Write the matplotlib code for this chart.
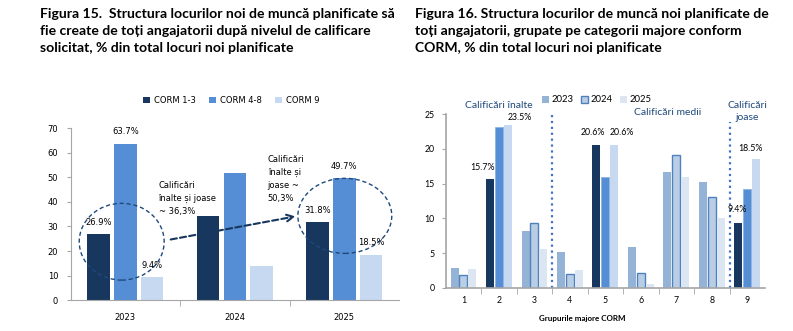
import matplotlib
matplotlib.use('Agg')
import matplotlib.pyplot as plt
import matplotlib.patches as mpatches
import numpy as np

# Figura 15 data
YEARS = ['2023', '2024', '2025']
LEVELS = ['CORM 1-3', 'CORM 4-8', 'CORM 9']
SHARE_HIGH = [26.9, 34.2, 31.8]
SHARE_MID = [63.7, 51.7, 49.7]
SHARE_LOW = [9.4, 14.1, 18.5]
LABELED_YEARS = ['2023', '2025']

# Figura 16 data
GROUPS = ['1', '2', '3', '4', '5', '6', '7', '8', '9']
SERIES = ['2023', '2024', '2025']
VAL_2023 = [2.9, 15.7, 8.2, 5.2, 20.6, 5.8, 16.7, 15.3, 9.4]
VAL_2024 = [1.8, 23.1, 9.3, 2.0, 15.9, 2.1, 19.1, 13.1, 14.2]
VAL_2025 = [2.7, 23.5, 5.6, 2.5, 20.6, 0.6, 15.9, 10.1, 18.5]
HIGHLIGHT = ['2', '5', '9']

C_DARK = '#17375e'
C_MID = '#558ed5'
C_LIGHT = '#c6d9f1'
C_SPINE = '#a6a6a6'
C_NOTE = '#1f497d'

FONT1 = 'DejaVu Sans'
FONT2 = 'Lato'

W, H = 793, 331
fig = plt.figure(figsize=(W / 100, H / 100), dpi=100)


def px_axes(x0, y0, x1, y1):
    # pixel box (top-left origin) -> figure axes
    return fig.add_axes([x0 / W, 1 - y1 / H, (x1 - x0) / W, (y1 - y0) / H])


# ---------------- titles ----------------
fig.text(40 / W, 1 - 8 / H,
         'Figura 15.  Structura locurilor noi de muncă planificate să\n'
         'fie create de toți angajatorii după nivelul de calificare\n'
         'solicitat, % din total locuri noi planificate',
         ha='left', va='top', fontsize=10.1, fontweight='bold', family=FONT2,
         linespacing=1.5)
fig.text(415 / W, 1 - 8 / H,
         'Figura 16. Structura locurilor de muncă noi planificate de\n'
         'toți angajatorii, grupate pe categorii majore conform\n'
         'CORM, % din total locuri noi planificate',
         ha='left', va='top', fontsize=10.1, fontweight='bold', family=FONT2,
         linespacing=1.5)

# ---------------- Figura 15 ----------------
ax1 = px_axes(70.7, 128, 399, 300.3)
x = np.arange(len(YEARS))
bw, step = 0.207, 0.244
series1 = [SHARE_HIGH, SHARE_MID, SHARE_LOW]
colors1 = [C_DARK, C_MID, C_LIGHT]
for i, (vals, col, lab) in enumerate(zip(series1, colors1, LEVELS)):
    xs = x + (i - 1) * step
    ax1.bar(xs, vals, bw, color=col, label=lab, zorder=2)
    for xi, v, yr in zip(xs, vals, YEARS):
        if yr in LABELED_YEARS:
            ax1.annotate(f'{v:.1f}%', (xi, v), xytext=(0, 8.5),
                         textcoords='offset points', ha='center', va='center',
                         fontsize=6, family=FONT1, zorder=4)

ax1.set_xlim(-0.5, 2.5)
ax1.set_ylim(0, 70)
ax1.set_yticks(range(0, 71, 10))
ax1.set_xticks(x)
ax1.set_xticklabels(YEARS)
ax1.set_xticks([0.5, 1.5], minor=True)
ax1.tick_params(axis='x', which='major', length=0, pad=9, labelsize=6)
ax1.tick_params(axis='x', which='minor', length=4, color=C_SPINE, direction='out')
ax1.tick_params(axis='y', length=3, color=C_SPINE, labelsize=6, pad=6)
for lbl in ax1.get_xticklabels() + ax1.get_yticklabels():
    lbl.set_family(FONT1)
for s in ['top', 'right']:
    ax1.spines[s].set_visible(False)
for s in ['left', 'bottom']:
    ax1.spines[s].set_color(C_SPINE)

ax1.legend(loc='center', bbox_to_anchor=(231.5 / W, 1 - 100.7 / H),
           bbox_transform=fig.transFigure, ncol=3, frameon=False,
           handlelength=0.8, handleheight=0.8, handletextpad=0.5,
           columnspacing=1.6, prop={'family': FONT1, 'size': 6})

# dashed ellipses and arrow
ax1.add_patch(mpatches.Ellipse((-0.034, 23.8), 0.776, 31.2, fill=False,
                               edgecolor=C_NOTE, linestyle=(0, (3, 2)), lw=1.0, zorder=3))
ax1.add_patch(mpatches.Ellipse((2.005, 34.3), 0.858, 30.5, fill=False,
                               edgecolor=C_NOTE, linestyle=(0, (3, 2)), lw=1.0, zorder=3))
ax1.annotate('', xy=(1.579, 34.3), xytext=(0.389, 24.5),
             arrowprops=dict(arrowstyle='->', color=C_DARK, lw=1.5,
                             linestyle=(0, (3, 1.5)), mutation_scale=12), zorder=3)
ax1.text(0.303, 48.5, 'Calificări\nînalte și joase\n~ 36,3%', ha='left', va='top',
         fontsize=6, family=FONT1, linespacing=1.55, zorder=4)
ax1.text(1.30, 59.0, 'Calificări\nînalte și\njoase ~\n50,3%', ha='left', va='top',
         fontsize=6, family=FONT1, linespacing=1.55, zorder=4)

# ---------------- Figura 16 ----------------
ax2 = px_axes(445.7, 114.3, 765, 287.7)
g = np.arange(len(GROUPS))
bw2, step2 = 0.225, 0.25
series2 = [VAL_2023, VAL_2024, VAL_2025]
hi_cols = [C_DARK, C_MID, C_LIGHT]
lo_cols = ['#95b3d7', '#b9cde5', '#dce6f2']
for i, vals in enumerate(series2):
    xs = g + (i - 1) * step2
    for xi, v, grp in zip(xs, vals, GROUPS):
        if grp in HIGHLIGHT:
            ec = '#8eb4e3' if i == 1 else 'none'
            ax2.bar(xi, v, bw2, color=hi_cols[i], edgecolor=ec, lw=0.6, zorder=2)
        else:
            ec = '#4f81bd' if i == 1 else 'none'
            ax2.bar(xi, v, bw2, color=lo_cols[i], edgecolor=ec, lw=1.0, zorder=2)

# data labels (offsets in points, as placed in the original)
label_offsets = {
    ('2', 0): (-5.3, 8.2), ('2', 2): (8.4, 5.0),
    ('5', 0): (-2.6, 8.9), ('5', 2): (5.5, 8.8),
    ('9', 0): (-0.7, 9.4), ('9', 2): (-3.8, 7.9),
}
for (grp, si), (dx, dy) in label_offsets.items():
    gi = GROUPS.index(grp)
    v = series2[si][gi]
    ax2.annotate(f'{v:.1f}%', (gi + (si - 1) * step2, v), xytext=(dx, dy),
                 textcoords='offset points', ha='center', va='center',
                 fontsize=6.3, family=FONT2, zorder=4)

ax2.set_xlim(-0.5, 8.5)
ax2.set_ylim(0, 25)
ax2.set_yticks(range(0, 26, 5))
ax2.set_xticks(g)
ax2.set_xticklabels(GROUPS)
ax2.set_xticks(g[:-1] + 0.5, minor=True)
ax2.tick_params(axis='x', which='major', length=0, pad=6, labelsize=6.3)
ax2.tick_params(axis='x', which='minor', length=4, color=C_SPINE, direction='out')
ax2.tick_params(axis='y', length=3, color=C_SPINE, labelsize=6.3, pad=5)
for lbl in ax2.get_xticklabels() + ax2.get_yticklabels():
    lbl.set_family(FONT2)
for s in ['top', 'right']:
    ax2.spines[s].set_visible(False)
for s in ['left', 'bottom']:
    ax2.spines[s].set_color(C_SPINE)
    ax2.spines[s].set_linewidth(1.2)

# dotted separators between skill levels
ax2.plot([2.5, 2.5], [0, 25.3], ls=':', color='#4472c4', lw=1.6, clip_on=False, zorder=1)
ax2.plot([7.5, 7.5], [0, 23.9], ls=':', color='#4472c4', lw=1.6, clip_on=False, zorder=1)

ax2.text(1.0, 26.3, 'Calificări înalte', ha='center', va='center', color=C_NOTE,
         fontsize=7.5, family=FONT2)
ax2.text(5.75, 25.3, 'Calificări medii', ha='center', va='center', color=C_NOTE,
         fontsize=7.5, family=FONT2)
ax2.text(8.0, 25.4, 'Calificări\njoase', ha='center', va='center', color=C_NOTE,
         fontsize=7.5, family=FONT2, linespacing=1.45)

handles2 = [mpatches.Patch(facecolor='#95b3d7', edgecolor='none'),
            mpatches.Patch(facecolor='#b9cde5', edgecolor='#4f81bd', lw=1.0),
            mpatches.Patch(facecolor='#dce6f2', edgecolor='none')]
ax2.legend(handles2, SERIES, loc='center', bbox_to_anchor=(596.7 / W, 1 - 100 / H),
           bbox_transform=fig.transFigure, ncol=3, frameon=False,
           handlelength=0.8, handleheight=0.8, handletextpad=0.3, columnspacing=0.7,
           prop={'family': FONT2, 'size': 6.8})

fig.text(582 / W, 1 - 319 / H, 'Grupurile majore CORM', ha='center', va='center',
         fontsize=5.8, fontweight='bold', family=FONT2)

fig.savefig('out.png', dpi=100)
